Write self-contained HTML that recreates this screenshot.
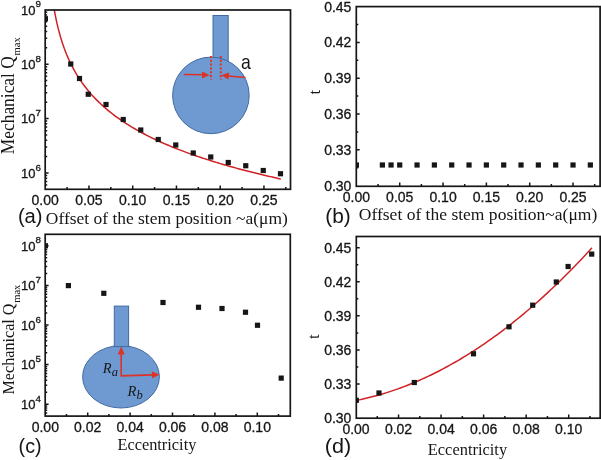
<!DOCTYPE html>
<html lang="en"><head><meta charset="utf-8"><title>Figure</title>
<style>html,body{margin:0;padding:0;background:#fff;}body{width:601px;height:460px;overflow:hidden;}svg{display:block;filter:blur(0.3px);}</style>
</head><body>
<svg width="601" height="460" viewBox="0 0 601 460">
<rect width="601" height="460" fill="#ffffff"/>
<rect x="213" y="15.5" width="15.2" height="46" fill="#6e99d1" stroke="#426aa2" stroke-width="1"/>
<circle cx="210.9" cy="95.4" r="38.3" fill="#6e99d1" stroke="#426aa2" stroke-width="1"/>
<path d="M211 56V79.5M220.8 56V79.5" stroke="#dc3228" stroke-width="2" stroke-dasharray="2 1.8" fill="none"/>
<path d="M183.8 74.4L203 74.8" stroke="#dc3228" stroke-width="1.5" fill="none"/><path d="M209.6 75l-7.6-3.5v7z" fill="#dc3228"/>
<path d="M245.5 77.6L228 75.9" stroke="#dc3228" stroke-width="1.5" fill="none"/><path d="M221.2 75.3l7.9-2.8l-0.7 7z" fill="#dc3228"/>
<text transform="translate(241 68.6) scale(0.86 1)" font-size="20.5" font-family='"Liberation Sans", sans-serif' fill="#161616">a</text>
<clipPath id="ca"><rect x="45.2" y="10.0" width="245.30" height="179.30"/></clipPath>
<path d="M54.30 10.00 L56.30 20.32 L58.30 28.93 L60.30 36.31 L62.30 42.77 L64.30 48.51 L66.30 53.68 L68.30 58.39 L70.30 62.70 L72.30 66.68 L74.30 70.38 L76.30 73.83 L78.30 77.07 L80.30 80.12 L82.30 83.00 L84.30 85.72 L86.30 88.32 L88.30 90.78 L90.30 93.14 L92.30 95.39 L94.30 97.55 L96.30 99.63 L98.30 101.62 L100.30 103.54 L102.30 105.39 L104.30 107.18 L106.30 108.91 L108.30 110.58 L110.30 112.20 L112.30 113.78 L114.30 115.30 L116.30 116.78 L118.30 118.22 L120.30 119.63 L122.30 120.99 L124.30 122.32 L126.30 123.62 L128.30 124.88 L130.30 126.12 L132.30 127.33 L134.30 128.51 L136.30 129.66 L138.30 130.79 L140.30 131.89 L142.30 132.97 L144.30 134.03 L146.30 135.07 L148.30 136.09 L150.30 137.08 L152.30 138.06 L154.30 139.02 L156.30 139.97 L158.30 140.89 L160.30 141.80 L162.30 142.70 L164.30 143.58 L166.30 144.44 L168.30 145.29 L170.30 146.13 L172.30 146.96 L174.30 147.77 L176.30 148.57 L178.30 149.35 L180.30 150.13 L182.30 150.89 L184.30 151.64 L186.30 152.38 L188.30 153.11 L190.30 153.84 L192.30 154.55 L194.30 155.25 L196.30 155.94 L198.30 156.62 L200.30 157.30 L202.30 157.96 L204.30 158.62 L206.30 159.27 L208.30 159.91 L210.30 160.54 L212.30 161.17 L214.30 161.79 L216.30 162.40 L218.30 163.00 L220.30 163.60 L222.30 164.19 L224.30 164.77 L226.30 165.35 L228.30 165.92 L230.30 166.48 L232.30 167.04 L234.30 167.59 L236.30 168.14 L238.30 168.68 L240.30 169.21 L242.30 169.74 L244.30 170.27 L246.30 170.79 L248.30 171.30 L250.30 171.81 L252.30 172.32 L254.30 172.81 L256.30 173.31 L258.30 173.80 L260.30 174.28 L262.30 174.76 L264.30 175.24 L266.30 175.71 L268.30 176.18 L270.30 176.64 L272.30 177.10 L274.30 177.56 L276.30 178.01 L278.30 178.46 L280.30 178.90 L280.8 179.01" stroke="#cf2226" stroke-width="1.5" fill="none" clip-path="url(#ca)"/>
<rect x="42.80" y="16.15" width="5.2" height="5.2" fill="#161616" clip-path="url(#ca)"/>
<rect x="68.15" y="61.40" width="5.2" height="5.2" fill="#161616" clip-path="url(#ca)"/>
<rect x="76.90" y="75.90" width="5.2" height="5.2" fill="#161616" clip-path="url(#ca)"/>
<rect x="85.65" y="91.65" width="5.2" height="5.2" fill="#161616" clip-path="url(#ca)"/>
<rect x="103.40" y="101.90" width="5.2" height="5.2" fill="#161616" clip-path="url(#ca)"/>
<rect x="120.65" y="116.90" width="5.2" height="5.2" fill="#161616" clip-path="url(#ca)"/>
<rect x="138.15" y="127.40" width="5.2" height="5.2" fill="#161616" clip-path="url(#ca)"/>
<rect x="155.65" y="136.90" width="5.2" height="5.2" fill="#161616" clip-path="url(#ca)"/>
<rect x="173.15" y="142.40" width="5.2" height="5.2" fill="#161616" clip-path="url(#ca)"/>
<rect x="190.65" y="150.40" width="5.2" height="5.2" fill="#161616" clip-path="url(#ca)"/>
<rect x="208.15" y="154.40" width="5.2" height="5.2" fill="#161616" clip-path="url(#ca)"/>
<rect x="225.65" y="159.90" width="5.2" height="5.2" fill="#161616" clip-path="url(#ca)"/>
<rect x="243.15" y="163.15" width="5.2" height="5.2" fill="#161616" clip-path="url(#ca)"/>
<rect x="260.65" y="167.90" width="5.2" height="5.2" fill="#161616" clip-path="url(#ca)"/>
<rect x="277.90" y="171.15" width="5.2" height="5.2" fill="#161616" clip-path="url(#ca)"/>
<rect x="45.2" y="10.0" width="245.30" height="179.30" fill="none" stroke="#161616" stroke-width="1.7"/>
<path d="M88.95 189.3v-3.7M132.70 189.3v-3.7M176.45 189.3v-3.7M220.20 189.3v-3.7M263.95 189.3v-3.7" stroke="#161616" stroke-width="1.5" fill="none"/>
<path d="M67.08 189.3v-2.2M110.83 189.3v-2.2M154.57 189.3v-2.2M198.32 189.3v-2.2M242.07 189.3v-2.2M285.83 189.3v-2.2" stroke="#161616" stroke-width="1.5" fill="none"/>
<path d="M45.2 173.00h3.4M45.2 118.60h3.4M45.2 64.20h3.4" stroke="#161616" stroke-width="1.5" fill="none"/>
<path d="M45.2 185.07h2.0M45.2 181.43h2.0M45.2 178.27h2.0M45.2 175.49h2.0M45.2 156.62h2.0M45.2 147.04h2.0M45.2 140.25h2.0M45.2 134.98h2.0M45.2 130.67h2.0M45.2 127.03h2.0M45.2 123.87h2.0M45.2 121.09h2.0M45.2 102.22h2.0M45.2 92.64h2.0M45.2 85.85h2.0M45.2 80.58h2.0M45.2 76.27h2.0M45.2 72.63h2.0M45.2 69.47h2.0M45.2 66.69h2.0M45.2 47.82h2.0M45.2 38.24h2.0M45.2 31.45h2.0M45.2 26.18h2.0M45.2 21.87h2.0M45.2 18.23h2.0M45.2 15.07h2.0M45.2 12.29h2.0" stroke="#161616" stroke-width="1.5" fill="none"/>
<text x="45.20" y="205.00" font-size="14" text-anchor="middle" font-family='"Liberation Sans", sans-serif' fill="#161616"  stroke="#161616" stroke-width="0.3">0.00</text>
<text x="88.95" y="205.00" font-size="14" text-anchor="middle" font-family='"Liberation Sans", sans-serif' fill="#161616"  stroke="#161616" stroke-width="0.3">0.05</text>
<text x="132.70" y="205.00" font-size="14" text-anchor="middle" font-family='"Liberation Sans", sans-serif' fill="#161616"  stroke="#161616" stroke-width="0.3">0.10</text>
<text x="176.45" y="205.00" font-size="14" text-anchor="middle" font-family='"Liberation Sans", sans-serif' fill="#161616"  stroke="#161616" stroke-width="0.3">0.15</text>
<text x="220.20" y="205.00" font-size="14" text-anchor="middle" font-family='"Liberation Sans", sans-serif' fill="#161616"  stroke="#161616" stroke-width="0.3">0.20</text>
<text x="263.95" y="205.00" font-size="14" text-anchor="middle" font-family='"Liberation Sans", sans-serif' fill="#161616"  stroke="#161616" stroke-width="0.3">0.25</text>
<text x="41.00" y="177.80" font-size="13.0" text-anchor="end" font-family='"Liberation Sans", sans-serif' fill="#161616" stroke="#161616" stroke-width="0.3">10<tspan font-size="9.8" dy="-7.3">6</tspan></text>
<text x="41.00" y="123.40" font-size="13.0" text-anchor="end" font-family='"Liberation Sans", sans-serif' fill="#161616" stroke="#161616" stroke-width="0.3">10<tspan font-size="9.8" dy="-7.3">7</tspan></text>
<text x="41.00" y="69.00" font-size="13.0" text-anchor="end" font-family='"Liberation Sans", sans-serif' fill="#161616" stroke="#161616" stroke-width="0.3">10<tspan font-size="9.8" dy="-7.3">8</tspan></text>
<text x="41.00" y="14.60" font-size="13.0" text-anchor="end" font-family='"Liberation Sans", sans-serif' fill="#161616" stroke="#161616" stroke-width="0.3">10<tspan font-size="9.8" dy="-7.3">9</tspan></text>
<text transform="translate(14.3 154.2) rotate(-90)" font-size="18" font-family='"Liberation Serif", serif' fill="#161616"><tspan textLength="98" lengthAdjust="spacingAndGlyphs">Mechanical Q</tspan><tspan font-size="10.5" dy="5.2" dx="0.8">max</tspan></text>
<text x="17.90" y="223.00" font-size="19.5" text-anchor="start" font-family='"Liberation Sans", sans-serif' fill="#161616" textLength="24.7" lengthAdjust="spacingAndGlyphs">(a)</text>
<text x="45.80" y="224.00" font-size="16.5" text-anchor="start" font-family='"Liberation Serif", serif' fill="#161616" textLength="242" lengthAdjust="spacingAndGlyphs">Offset of the stem position ~a(μm)</text>
<clipPath id="cb"><rect x="356.3" y="6.6" width="243.80" height="179.70"/></clipPath>
<rect x="353.80" y="162.40" width="5.2" height="5.2" fill="#161616" clip-path="url(#cb)"/>
<rect x="379.79" y="162.40" width="5.2" height="5.2" fill="#161616" clip-path="url(#cb)"/>
<rect x="388.46" y="162.40" width="5.2" height="5.2" fill="#161616" clip-path="url(#cb)"/>
<rect x="397.12" y="162.40" width="5.2" height="5.2" fill="#161616" clip-path="url(#cb)"/>
<rect x="414.45" y="162.40" width="5.2" height="5.2" fill="#161616" clip-path="url(#cb)"/>
<rect x="431.78" y="162.40" width="5.2" height="5.2" fill="#161616" clip-path="url(#cb)"/>
<rect x="449.11" y="162.40" width="5.2" height="5.2" fill="#161616" clip-path="url(#cb)"/>
<rect x="466.44" y="162.40" width="5.2" height="5.2" fill="#161616" clip-path="url(#cb)"/>
<rect x="483.77" y="162.40" width="5.2" height="5.2" fill="#161616" clip-path="url(#cb)"/>
<rect x="501.10" y="162.40" width="5.2" height="5.2" fill="#161616" clip-path="url(#cb)"/>
<rect x="518.43" y="162.40" width="5.2" height="5.2" fill="#161616" clip-path="url(#cb)"/>
<rect x="535.76" y="162.40" width="5.2" height="5.2" fill="#161616" clip-path="url(#cb)"/>
<rect x="553.09" y="162.40" width="5.2" height="5.2" fill="#161616" clip-path="url(#cb)"/>
<rect x="570.42" y="162.40" width="5.2" height="5.2" fill="#161616" clip-path="url(#cb)"/>
<rect x="587.75" y="162.40" width="5.2" height="5.2" fill="#161616" clip-path="url(#cb)"/>
<rect x="356.3" y="6.6" width="243.80" height="179.70" fill="none" stroke="#161616" stroke-width="1.7"/>
<path d="M399.72 186.3v-3.7M443.05 186.3v-3.7M486.38 186.3v-3.7M529.70 186.3v-3.7M573.02 186.3v-3.7" stroke="#161616" stroke-width="1.5" fill="none"/>
<path d="M378.06 186.3v-2.2M421.39 186.3v-2.2M464.71 186.3v-2.2M508.04 186.3v-2.2M551.36 186.3v-2.2M594.69 186.3v-2.2" stroke="#161616" stroke-width="1.5" fill="none"/>
<path d="M356.3 149.81h3.4M356.3 114.02h3.4M356.3 78.23h3.4M356.3 42.44h3.4" stroke="#161616" stroke-width="1.5" fill="none"/>
<path d="M356.3 167.70h2.0M356.3 131.92h2.0M356.3 96.12h2.0M356.3 60.33h2.0M356.3 24.54h2.0" stroke="#161616" stroke-width="1.5" fill="none"/>
<text x="356.40" y="201.80" font-size="14" text-anchor="middle" font-family='"Liberation Sans", sans-serif' fill="#161616"  stroke="#161616" stroke-width="0.3">0.00</text>
<text x="399.72" y="201.80" font-size="14" text-anchor="middle" font-family='"Liberation Sans", sans-serif' fill="#161616"  stroke="#161616" stroke-width="0.3">0.05</text>
<text x="443.05" y="201.80" font-size="14" text-anchor="middle" font-family='"Liberation Sans", sans-serif' fill="#161616"  stroke="#161616" stroke-width="0.3">0.10</text>
<text x="486.38" y="201.80" font-size="14" text-anchor="middle" font-family='"Liberation Sans", sans-serif' fill="#161616"  stroke="#161616" stroke-width="0.3">0.15</text>
<text x="529.70" y="201.80" font-size="14" text-anchor="middle" font-family='"Liberation Sans", sans-serif' fill="#161616"  stroke="#161616" stroke-width="0.3">0.20</text>
<text x="573.02" y="201.80" font-size="14" text-anchor="middle" font-family='"Liberation Sans", sans-serif' fill="#161616"  stroke="#161616" stroke-width="0.3">0.25</text>
<text x="351.40" y="190.60" font-size="14" text-anchor="end" font-family='"Liberation Sans", sans-serif' fill="#161616"  stroke="#161616" stroke-width="0.3">0.30</text>
<text x="351.40" y="154.81" font-size="14" text-anchor="end" font-family='"Liberation Sans", sans-serif' fill="#161616"  stroke="#161616" stroke-width="0.3">0.33</text>
<text x="351.40" y="119.02" font-size="14" text-anchor="end" font-family='"Liberation Sans", sans-serif' fill="#161616"  stroke="#161616" stroke-width="0.3">0.36</text>
<text x="351.40" y="83.23" font-size="14" text-anchor="end" font-family='"Liberation Sans", sans-serif' fill="#161616"  stroke="#161616" stroke-width="0.3">0.39</text>
<text x="351.40" y="47.44" font-size="14" text-anchor="end" font-family='"Liberation Sans", sans-serif' fill="#161616"  stroke="#161616" stroke-width="0.3">0.42</text>
<text x="351.40" y="11.65" font-size="14" text-anchor="end" font-family='"Liberation Sans", sans-serif' fill="#161616"  stroke="#161616" stroke-width="0.3">0.45</text>
<text transform="translate(320.3 94.5) rotate(-90)" font-size="17" font-family='"Liberation Serif", serif' fill="#161616">t</text>
<text x="325.30" y="223.00" font-size="19.5" text-anchor="start" font-family='"Liberation Sans", sans-serif' fill="#161616" textLength="25.5" lengthAdjust="spacingAndGlyphs">(b)</text>
<text x="358.80" y="220.00" font-size="16.5" text-anchor="start" font-family='"Liberation Serif", serif' fill="#161616" textLength="238.5" lengthAdjust="spacingAndGlyphs">Offset of the stem position~a(μm)</text>
<ellipse cx="121" cy="376.8" rx="38.4" ry="31.2" fill="#6e99d1" stroke="#426aa2" stroke-width="1"/>
<rect x="114.3" y="306.1" width="14.3" height="40.5" fill="#6e99d1" stroke="#426aa2" stroke-width="1"/>
<path d="M121.2 376.6V353M120.5 375.9L153 374.9" stroke="#dc3228" stroke-width="1.6" fill="none"/>
<path d="M121.2 346.6l-3.5 7.8h7z" fill="#dc3228"/><path d="M159.6 374.7l-7.8-3.4l0.2 7z" fill="#dc3228"/>
<text x="102.8" y="373.2" font-size="14.5" font-style="italic" font-family='"Liberation Serif", serif' fill="#161616">R<tspan font-size="12.5" dy="3">a</tspan></text>
<text x="127.6" y="396" font-size="14.5" font-style="italic" font-family='"Liberation Serif", serif' fill="#161616">R<tspan font-size="12.5" dy="3">b</tspan></text>
<clipPath id="cc"><rect x="45.2" y="234.3" width="245.10" height="181.80"/></clipPath>
<rect x="42.80" y="243.20" width="5.2" height="5.2" fill="#161616" clip-path="url(#cc)"/>
<rect x="65.80" y="283.00" width="5.2" height="5.2" fill="#161616" clip-path="url(#cc)"/>
<rect x="101.20" y="290.70" width="5.2" height="5.2" fill="#161616" clip-path="url(#cc)"/>
<rect x="160.40" y="299.90" width="5.2" height="5.2" fill="#161616" clip-path="url(#cc)"/>
<rect x="195.90" y="304.65" width="5.2" height="5.2" fill="#161616" clip-path="url(#cc)"/>
<rect x="219.40" y="305.90" width="5.2" height="5.2" fill="#161616" clip-path="url(#cc)"/>
<rect x="242.90" y="309.65" width="5.2" height="5.2" fill="#161616" clip-path="url(#cc)"/>
<rect x="254.90" y="322.65" width="5.2" height="5.2" fill="#161616" clip-path="url(#cc)"/>
<rect x="278.60" y="375.50" width="5.2" height="5.2" fill="#161616" clip-path="url(#cc)"/>
<rect x="45.2" y="234.3" width="245.10" height="181.80" fill="none" stroke="#161616" stroke-width="1.7"/>
<path d="M87.70 416.1v-3.7M130.10 416.1v-3.7M172.50 416.1v-3.7M214.90 416.1v-3.7M257.30 416.1v-3.7" stroke="#161616" stroke-width="1.5" fill="none"/>
<path d="M66.50 416.1v-2.2M108.90 416.1v-2.2M151.30 416.1v-2.2M193.70 416.1v-2.2M236.10 416.1v-2.2M278.50 416.1v-2.2" stroke="#161616" stroke-width="1.5" fill="none"/>
<path d="M45.2 404.20h3.4M45.2 364.60h3.4M45.2 325.00h3.4M45.2 285.40h3.4M45.2 245.80h3.4" stroke="#161616" stroke-width="1.5" fill="none"/>
<path d="M45.2 412.99h2.0M45.2 410.33h2.0M45.2 408.04h2.0M45.2 406.01h2.0M45.2 392.28h2.0M45.2 385.31h2.0M45.2 380.36h2.0M45.2 376.52h2.0M45.2 373.39h2.0M45.2 370.73h2.0M45.2 368.44h2.0M45.2 366.41h2.0M45.2 352.68h2.0M45.2 345.71h2.0M45.2 340.76h2.0M45.2 336.92h2.0M45.2 333.79h2.0M45.2 331.13h2.0M45.2 328.84h2.0M45.2 326.81h2.0M45.2 313.08h2.0M45.2 306.11h2.0M45.2 301.16h2.0M45.2 297.32h2.0M45.2 294.19h2.0M45.2 291.53h2.0M45.2 289.24h2.0M45.2 287.21h2.0M45.2 273.48h2.0M45.2 266.51h2.0M45.2 261.56h2.0M45.2 257.72h2.0M45.2 254.59h2.0M45.2 251.93h2.0M45.2 249.64h2.0M45.2 247.61h2.0" stroke="#161616" stroke-width="1.5" fill="none"/>
<text x="45.30" y="431.50" font-size="14" text-anchor="middle" font-family='"Liberation Sans", sans-serif' fill="#161616"  stroke="#161616" stroke-width="0.3">0.00</text>
<text x="87.70" y="431.50" font-size="14" text-anchor="middle" font-family='"Liberation Sans", sans-serif' fill="#161616"  stroke="#161616" stroke-width="0.3">0.02</text>
<text x="130.10" y="431.50" font-size="14" text-anchor="middle" font-family='"Liberation Sans", sans-serif' fill="#161616"  stroke="#161616" stroke-width="0.3">0.04</text>
<text x="172.50" y="431.50" font-size="14" text-anchor="middle" font-family='"Liberation Sans", sans-serif' fill="#161616"  stroke="#161616" stroke-width="0.3">0.06</text>
<text x="214.90" y="431.50" font-size="14" text-anchor="middle" font-family='"Liberation Sans", sans-serif' fill="#161616"  stroke="#161616" stroke-width="0.3">0.08</text>
<text x="257.30" y="431.50" font-size="14" text-anchor="middle" font-family='"Liberation Sans", sans-serif' fill="#161616"  stroke="#161616" stroke-width="0.3">0.10</text>
<text x="41.00" y="409.00" font-size="13.0" text-anchor="end" font-family='"Liberation Sans", sans-serif' fill="#161616" stroke="#161616" stroke-width="0.3">10<tspan font-size="9.8" dy="-7.3">4</tspan></text>
<text x="41.00" y="369.40" font-size="13.0" text-anchor="end" font-family='"Liberation Sans", sans-serif' fill="#161616" stroke="#161616" stroke-width="0.3">10<tspan font-size="9.8" dy="-7.3">5</tspan></text>
<text x="41.00" y="329.80" font-size="13.0" text-anchor="end" font-family='"Liberation Sans", sans-serif' fill="#161616" stroke="#161616" stroke-width="0.3">10<tspan font-size="9.8" dy="-7.3">6</tspan></text>
<text x="41.00" y="290.20" font-size="13.0" text-anchor="end" font-family='"Liberation Sans", sans-serif' fill="#161616" stroke="#161616" stroke-width="0.3">10<tspan font-size="9.8" dy="-7.3">7</tspan></text>
<text x="41.00" y="250.60" font-size="13.0" text-anchor="end" font-family='"Liberation Sans", sans-serif' fill="#161616" stroke="#161616" stroke-width="0.3">10<tspan font-size="9.8" dy="-7.3">8</tspan></text>
<text transform="translate(14.3 394.5) rotate(-90)" font-size="17.5" font-family='"Liberation Serif", serif' fill="#161616"><tspan textLength="91" lengthAdjust="spacingAndGlyphs">Mechanical Q</tspan><tspan font-size="10.5" dy="5.2" dx="0.8">max</tspan></text>
<text x="18.60" y="453.00" font-size="19.5" text-anchor="start" font-family='"Liberation Sans", sans-serif' fill="#161616" textLength="23" lengthAdjust="spacingAndGlyphs">(c)</text>
<text x="117.40" y="449.60" font-size="16.5" text-anchor="start" font-family='"Liberation Serif", serif' fill="#161616" textLength="79" lengthAdjust="spacingAndGlyphs">Eccentricity</text>
<path d="M356.00 400.50 L359.00 399.89 L362.00 399.24 L365.00 398.57 L368.00 397.85 L371.00 397.10 L374.00 396.32 L377.00 395.51 L380.00 394.66 L383.00 393.77 L386.00 392.85 L389.00 391.90 L392.00 390.91 L395.00 389.89 L398.00 388.84 L401.00 387.75 L404.00 386.62 L407.00 385.46 L410.00 384.27 L413.00 383.04 L416.00 381.78 L419.00 380.49 L422.00 379.16 L425.00 377.79 L428.00 376.39 L431.00 374.96 L434.00 373.49 L437.00 371.99 L440.00 370.46 L443.00 368.89 L446.00 367.28 L449.00 365.65 L452.00 363.97 L455.00 362.27 L458.00 360.53 L461.00 358.75 L464.00 356.94 L467.00 355.10 L470.00 353.22 L473.00 351.31 L476.00 349.36 L479.00 347.38 L482.00 345.37 L485.00 343.32 L488.00 341.23 L491.00 339.11 L494.00 336.96 L497.00 334.78 L500.00 332.56 L503.00 330.30 L506.00 328.01 L509.00 325.69 L512.00 323.33 L515.00 320.94 L518.00 318.51 L521.00 316.05 L524.00 313.56 L527.00 311.03 L530.00 308.47 L533.00 305.87 L536.00 303.24 L539.00 300.57 L542.00 297.87 L545.00 295.14 L548.00 292.37 L551.00 289.57 L554.00 286.73 L557.00 283.86 L560.00 280.95 L563.00 278.01 L566.00 275.04 L569.00 272.03 L572.00 268.99 L575.00 265.91 L578.00 262.80 L581.00 259.66 L584.00 256.48 L587.00 253.26 L590.00 250.01 L592.00 247.83" stroke="#cf2226" stroke-width="1.5" fill="none"/>
<clipPath id="cd"><rect x="356.3" y="236.5" width="243.90" height="181.70"/></clipPath>
<rect x="353.70" y="397.70" width="5.2" height="5.2" fill="#161616" clip-path="url(#cd)"/>
<rect x="376.40" y="390.40" width="5.2" height="5.2" fill="#161616" clip-path="url(#cd)"/>
<rect x="411.70" y="379.90" width="5.2" height="5.2" fill="#161616" clip-path="url(#cd)"/>
<rect x="470.90" y="351.20" width="5.2" height="5.2" fill="#161616" clip-path="url(#cd)"/>
<rect x="506.40" y="324.20" width="5.2" height="5.2" fill="#161616" clip-path="url(#cd)"/>
<rect x="530.10" y="302.60" width="5.2" height="5.2" fill="#161616" clip-path="url(#cd)"/>
<rect x="553.70" y="279.40" width="5.2" height="5.2" fill="#161616" clip-path="url(#cd)"/>
<rect x="565.50" y="263.90" width="5.2" height="5.2" fill="#161616" clip-path="url(#cd)"/>
<rect x="589.10" y="251.50" width="5.2" height="5.2" fill="#161616" clip-path="url(#cd)"/>
<rect x="356.3" y="236.5" width="243.90" height="181.70" fill="none" stroke="#161616" stroke-width="1.7"/>
<path d="M398.54 418.2v-3.7M441.08 418.2v-3.7M483.62 418.2v-3.7M526.16 418.2v-3.7M568.70 418.2v-3.7" stroke="#161616" stroke-width="1.5" fill="none"/>
<path d="M377.27 418.2v-2.2M419.81 418.2v-2.2M462.35 418.2v-2.2M504.89 418.2v-2.2M547.43 418.2v-2.2M589.97 418.2v-2.2" stroke="#161616" stroke-width="1.5" fill="none"/>
<path d="M356.3 384.09h3.4M356.3 349.98h3.4M356.3 315.87h3.4M356.3 281.76h3.4M356.3 247.65h3.4" stroke="#161616" stroke-width="1.5" fill="none"/>
<path d="M356.3 401.14h2.0M356.3 367.04h2.0M356.3 332.92h2.0M356.3 298.81h2.0M356.3 264.70h2.0" stroke="#161616" stroke-width="1.5" fill="none"/>
<text x="356.00" y="434.00" font-size="14" text-anchor="middle" font-family='"Liberation Sans", sans-serif' fill="#161616"  stroke="#161616" stroke-width="0.3">0.00</text>
<text x="398.54" y="434.00" font-size="14" text-anchor="middle" font-family='"Liberation Sans", sans-serif' fill="#161616"  stroke="#161616" stroke-width="0.3">0.02</text>
<text x="441.08" y="434.00" font-size="14" text-anchor="middle" font-family='"Liberation Sans", sans-serif' fill="#161616"  stroke="#161616" stroke-width="0.3">0.04</text>
<text x="483.62" y="434.00" font-size="14" text-anchor="middle" font-family='"Liberation Sans", sans-serif' fill="#161616"  stroke="#161616" stroke-width="0.3">0.06</text>
<text x="526.16" y="434.00" font-size="14" text-anchor="middle" font-family='"Liberation Sans", sans-serif' fill="#161616"  stroke="#161616" stroke-width="0.3">0.08</text>
<text x="568.70" y="434.00" font-size="14" text-anchor="middle" font-family='"Liberation Sans", sans-serif' fill="#161616"  stroke="#161616" stroke-width="0.3">0.10</text>
<text x="351.40" y="423.20" font-size="14" text-anchor="end" font-family='"Liberation Sans", sans-serif' fill="#161616"  stroke="#161616" stroke-width="0.3">0.30</text>
<text x="351.40" y="389.09" font-size="14" text-anchor="end" font-family='"Liberation Sans", sans-serif' fill="#161616"  stroke="#161616" stroke-width="0.3">0.33</text>
<text x="351.40" y="354.98" font-size="14" text-anchor="end" font-family='"Liberation Sans", sans-serif' fill="#161616"  stroke="#161616" stroke-width="0.3">0.36</text>
<text x="351.40" y="320.87" font-size="14" text-anchor="end" font-family='"Liberation Sans", sans-serif' fill="#161616"  stroke="#161616" stroke-width="0.3">0.39</text>
<text x="351.40" y="286.76" font-size="14" text-anchor="end" font-family='"Liberation Sans", sans-serif' fill="#161616"  stroke="#161616" stroke-width="0.3">0.42</text>
<text x="351.40" y="252.65" font-size="14" text-anchor="end" font-family='"Liberation Sans", sans-serif' fill="#161616"  stroke="#161616" stroke-width="0.3">0.45</text>
<text transform="translate(319.3 339) rotate(-90)" font-size="17" font-family='"Liberation Serif", serif' fill="#161616">t</text>
<text x="324.80" y="453.00" font-size="19.5" text-anchor="start" font-family='"Liberation Sans", sans-serif' fill="#161616" textLength="26.4" lengthAdjust="spacingAndGlyphs">(d)</text>
<text x="427.80" y="455.40" font-size="16.5" text-anchor="start" font-family='"Liberation Serif", serif' fill="#161616" textLength="79.3" lengthAdjust="spacingAndGlyphs">Eccentricity</text>
</svg>
</body></html>
